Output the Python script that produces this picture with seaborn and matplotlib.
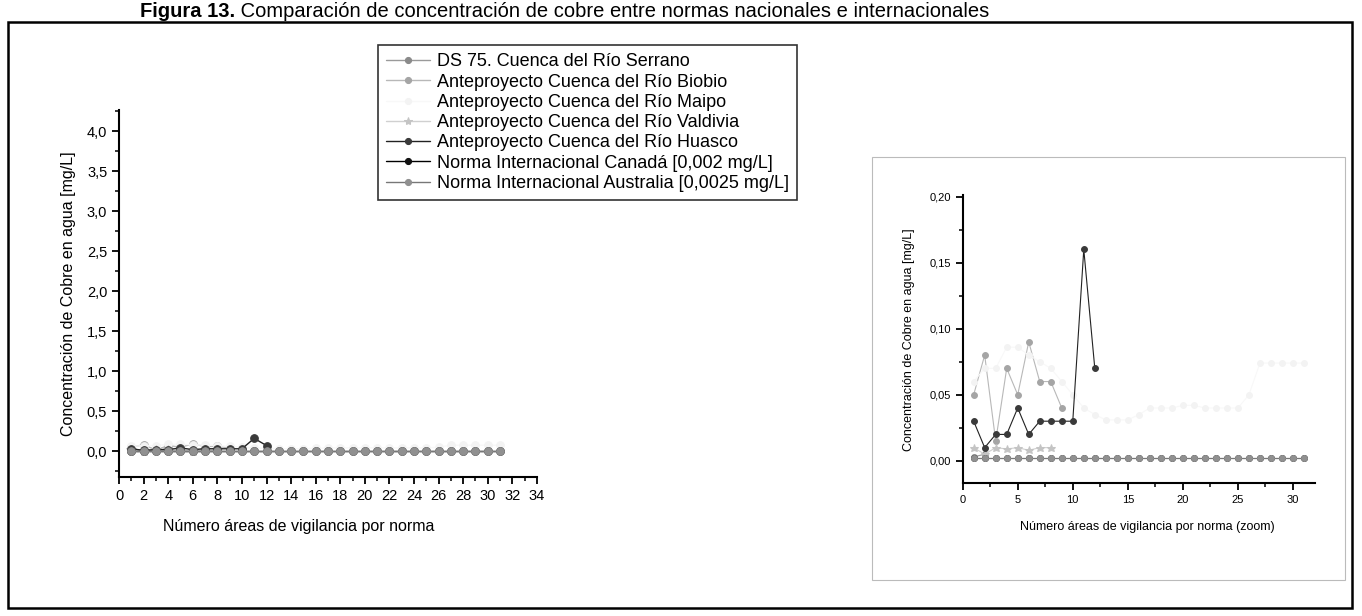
import numpy as np
import pandas as pd
import matplotlib
matplotlib.use("Agg")
import matplotlib.pyplot as plt
import seaborn as sns
from matplotlib.ticker import MultipleLocator, FuncFormatter
from matplotlib.patches import Rectangle

# Datos (mg/L)
x_serrano = [1, 2]
serrano = [0.003, 0.005]

x_biobio = list(range(1, 10))
biobio = [0.05, 0.08, 0.015, 0.07, 0.05, 0.09, 0.06, 0.06, 0.04]

x_maipo = list(range(1, 32))
maipo = [0.06, 0.07, 0.07, 0.086, 0.086, 0.08, 0.075, 0.07, 0.06, 0.05,
         0.04, 0.035, 0.031, 0.031, 0.031, 0.035, 0.04, 0.04, 0.04, 0.042,
         0.042, 0.04, 0.04, 0.04, 0.04, 0.05, 0.074, 0.074, 0.074, 0.074, 0.074]

x_valdivia = list(range(1, 9))
valdivia = [0.01, 0.005, 0.01, 0.009, 0.01, 0.008, 0.01, 0.01]

x_huasco = list(range(1, 13))
huasco = [0.03, 0.01, 0.02, 0.02, 0.04, 0.02, 0.03, 0.03, 0.03, 0.03, 0.16, 0.07]

x_normas = list(range(1, 32))
canada = [0.002] * 31
australia = [0.0025] * 31

series = [
    ("DS 75. Cuenca del Río Serrano", x_serrano, serrano, "#9a9a9a", "#8a8a8a", "o"),
    ("Anteproyecto Cuenca del Río Biobio", x_biobio, biobio, "#b8b8b8", "#a5a5a5", "o"),
    ("Anteproyecto Cuenca del Río Maipo", x_maipo, maipo, "#f8f8f8", "#f3f3f3", "o"),
    ("Anteproyecto Cuenca del Río Valdivia", x_valdivia, valdivia, "#d0d0d0", "#c4c4c4", "*"),
    ("Anteproyecto Cuenca del Río Huasco", x_huasco, huasco, "#222222", "#3a3a3a", "o"),
    ("Norma Internacional Canadá [0,002 mg/L]", x_normas, canada, "#000000", "#111111", "o"),
    ("Norma Internacional Australia [0,0025 mg/L]", x_normas, australia, "#777777", "#909090", "o"),
]

sns.set_style("ticks")
plt.rcParams['font.family'] = ['Liberation Sans', 'DejaVu Sans']
plt.rcParams.update({"text.color": "black", "axes.labelcolor": "black",
                     "xtick.color": "black", "ytick.color": "black"})

fig = plt.figure(figsize=(13.62, 6.16), dpi=100)
ax1 = fig.add_axes([0.0874, 0.226, 0.3068, 0.595])
ax2 = fig.add_axes([0.7068, 0.2154, 0.2587, 0.4677])

coma = FuncFormatter(lambda v, p: f"{v:.1f}".replace(".", ","))
coma2 = FuncFormatter(lambda v, p: f"{v:.2f}".replace(".", ","))

for ax, ms, lw in [(ax1, 5.5, 1.0), (ax2, 4.2, 0.8)]:
    for nombre, xs, ys, lc, mc, mk in series:
        df = pd.DataFrame({"x": xs, "y": ys})
        sns.lineplot(data=df, x="x", y="y", ax=ax, color=lc, lw=lw,
                     marker=mk, markersize=ms if mk == "o" else ms + 2,
                     markerfacecolor=mc, markeredgecolor=mc, label=nombre, legend=False)
    for s in ["top", "right"]:
        ax.spines[s].set_visible(False)
    for s in ["left", "bottom"]:
        ax.spines[s].set_linewidth(1.5)
        ax.spines[s].set_color("black")
    ax.tick_params(which="major", direction="out", length=5, width=1.3, colors="black")
    ax.tick_params(which="minor", direction="out", length=3, width=1.1, colors="black")

# Panel principal
ax1.set_xlim(0, 34)
ax1.set_ylim(-0.32, 4.26)
ax1.xaxis.set_major_locator(MultipleLocator(2))
ax1.xaxis.set_minor_locator(MultipleLocator(1))
ax1.set_yticks(np.arange(0, 4.01, 0.5))
ax1.yaxis.set_minor_locator(MultipleLocator(0.25))
ax1.yaxis.set_major_formatter(coma)
ax1.tick_params(labelsize=10.5)
ax1.set_xlabel("Número áreas de vigilancia por norma", fontsize=11.5)
ax1.xaxis.set_label_coords(0.43, -0.115)
ax1.set_ylabel("Concentración de Cobre en agua [mg/L]", fontsize=11.5, labelpad=8)

# Panel zoom
ax2.set_xlim(0, 32)
ax2.set_ylim(-0.017, 0.201)
ax2.xaxis.set_major_locator(MultipleLocator(5))
ax2.xaxis.set_minor_locator(MultipleLocator(2.5))
ax2.set_yticks(np.arange(0, 0.201, 0.05))
ax2.yaxis.set_minor_locator(MultipleLocator(0.025))
ax2.yaxis.set_major_formatter(coma2)
ax2.tick_params(labelsize=8)
ax2.xaxis.set_major_formatter(FuncFormatter(lambda v, p: f"{v:.0f}"))
ax2.set_xlabel("Número áreas de vigilancia por norma (zoom)", fontsize=9)
ax2.xaxis.set_label_coords(0.523, -0.13)
ax2.set_ylabel("Concentración de Cobre en agua [mg/L]", fontsize=9, labelpad=10)

# Leyenda
handles, labels = ax1.get_legend_handles_labels()
leg = fig.legend(handles, labels, loc="upper left", bbox_to_anchor=(0.271, 0.941),
                 prop={"size": 13}, frameon=True, fancybox=False,
                 edgecolor="black", handlelength=2.4, labelspacing=0.18,
                 borderpad=0.45, handletextpad=0.4, markerscale=0.8)
leg.get_frame().set_linewidth(1.2)

# Marcos
fig.patches.append(Rectangle((0.0059, 0.013), 0.9868, 0.9513, transform=fig.transFigure,
                             fill=False, lw=1.8, edgecolor="black"))
fig.patches.append(Rectangle((0.6402, 0.0584), 0.3473, 0.6866, transform=fig.transFigure,
                             fill=False, lw=0.8, edgecolor="#bbbbbb"))

# Título
t1 = fig.text(0.103, 0.997, "Figura 13.", fontsize=14.5, fontweight="bold", va="top")
ax1.annotate(" Comparación de concentración de cobre entre normas nacionales e internacionales",
             xy=(1, 1), xycoords=t1, va="top", fontsize=14.5, annotation_clip=False)

fig.savefig("out.png", dpi=100)
